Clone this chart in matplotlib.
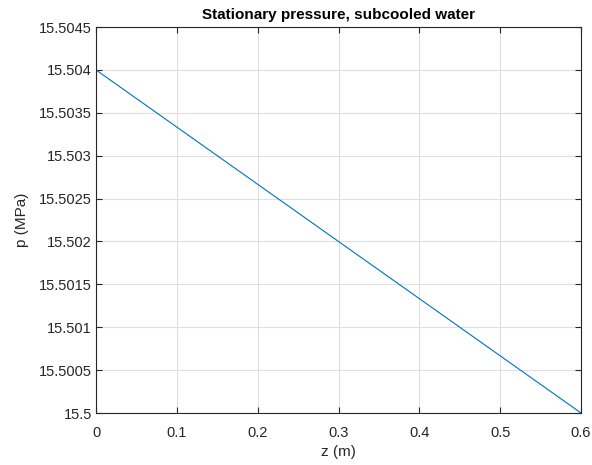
import matplotlib

matplotlib.use("Agg")
import matplotlib.pyplot as plt
from matplotlib.ticker import FuncFormatter

plt.rcParams["font.family"] = ["Liberation Sans", "DejaVu Sans"]

# data: stationary pressure along the channel (linear drop)
z = [0.0, 0.6]
p = [15.504, 15.5]
xticks = [0, 0.1, 0.2, 0.3, 0.4, 0.5, 0.6]
yticks = [15.5, 15.5005, 15.501, 15.5015, 15.502, 15.5025, 15.503, 15.5035, 15.504, 15.5045]

AX = "#262626"

fig = plt.figure(figsize=(5.92, 4.65), dpi=100)
ax = fig.add_axes([0.1622, 0.1118, 0.8193, 0.830])
ax.plot(z, p, color="#0072BD", lw=0.8)

ax.set_xlim(0, 0.6)
ax.set_ylim(15.5, 15.5045)
ax.set_xticks(xticks)
ax.set_yticks(yticks)
ax.xaxis.set_major_formatter(FuncFormatter(lambda v, _: "%g" % round(v, 6)))
ax.yaxis.set_major_formatter(FuncFormatter(lambda v, _: "%g" % round(v, 6)))
ax.grid(True, color="#dfdfdf", lw=0.8)
ax.set_axisbelow(True)
ax.tick_params(direction="in", top=True, right=True, length=4, width=0.8,
               colors=AX, labelsize=10.5, labelcolor=AX)
ax.tick_params(axis="x", pad=9)
ax.tick_params(axis="y", pad=3)
for s in ax.spines.values():
    s.set_color(AX)
    s.set_linewidth(0.8)

ax.set_xlabel("z (m)", fontsize=11, color=AX, labelpad=4)
ax.set_ylabel("p (MPa)", fontsize=11, color=AX, labelpad=7)
ax.set_title("Stationary pressure, subcooled water", fontsize=11,
             fontweight="bold", color="black", pad=6)

fig.savefig("out.png", dpi=100, facecolor="white")
